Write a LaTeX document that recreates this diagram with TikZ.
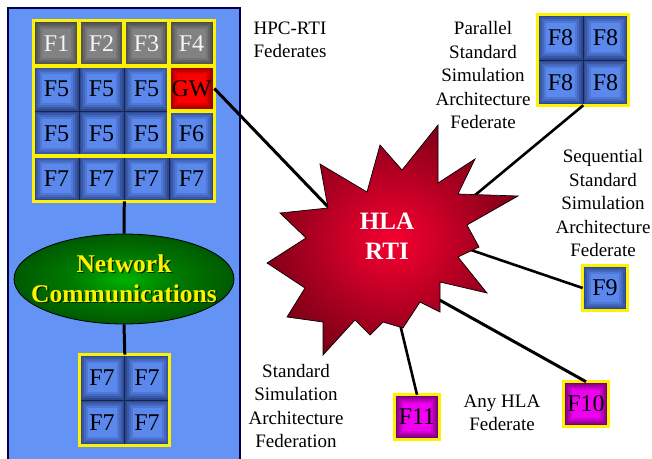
\documentclass[tikz,border=0pt]{standalone}
\usepackage{fontspec}
\setmainfont{Liberation Serif}
\usetikzlibrary{shapes.geometric}
\definecolor{panelblue}{HTML}{6394F5}
\definecolor{bdark}{HTML}{2C4890}
\definecolor{blight}{HTML}{5A88EC}
\definecolor{gdark}{HTML}{484848}
\definecolor{glight}{HTML}{828282}
\definecolor{rdark}{HTML}{8A0000}
\definecolor{rlight}{HTML}{FF0000}
\definecolor{mdark}{HTML}{760076}
\definecolor{mlight}{HTML}{F000F0}
\definecolor{cellline}{HTML}{18254A}
\definecolor{st0}{HTML}{F5002E}
\definecolor{st1}{HTML}{D8002A}
\definecolor{st2}{HTML}{A80020}
\definecolor{st3}{HTML}{7A0016}
\definecolor{st4}{HTML}{600012}
\pgfdeclareradialshading{starshade}{\pgfpoint{0bp}{0bp}}{%
  color(0bp)=(st0);
  color(7bp)=(st1);
  color(17bp)=(st2);
  color(27bp)=(st3);
  color(36bp)=(st4);
  color(50bp)=(st4)}
\pgfdeclareradialshading{netshade}{\pgfpoint{0bp}{0bp}}{%
  color(0bp)=(green!70!black);
  color(12bp)=(green!48!black);
  color(30bp)=(green!30!black);
  color(50bp)=(green!22!black)}
\tikzset{
  bevel/.style 2 args={fill=#1, draw=cellline, line width=0.6pt,
    path picture={\foreach \i/\p in {2/25,4/50,6/75,8/100}{
      \fill[#2!\p!#1] ([xshift=\i pt,yshift=-\i pt]path picture bounding box.north west)
        rectangle ([xshift=-\i pt,yshift=\i pt]path picture bounding box.south east);}}},
  cellbase/.style={rectangle, minimum size=45pt, inner sep=0pt, font=\fontsize{24}{24}\selectfont},
  bcell/.style={cellbase, bevel={bdark}{blight}, text=black},
  gcell/.style={cellbase, bevel={gdark}{glight}, text=white!92!gray},
  rcell/.style={cellbase, bevel={rdark}{rlight}, text=black},
  mcell/.style={cellbase, minimum size=44pt, bevel={mdark}{mlight}, text=black},
  scell/.style={cellbase, minimum size=44pt, bevel={bdark}{blight}, text=black},
  ybox/.style={draw=yellow, line width=2.8pt},
  conn/.style={draw=black, line width=2.6pt},
  lbl/.style={align=center, font=\fontsize{19}{23.5}\selectfont, inner sep=0pt},
  nettext/.style={align=center, font=\bfseries\fontsize{25.5}{30}\selectfont, inner sep=0pt},
}
\begin{document}
\begin{tikzpicture}[x=1pt,y=-1pt]
\useasboundingbox (0,0) rectangle (652,458);
% left panel
\begin{scope}
\clip (0,0) rectangle (652,458);
\draw[fill=panelblue, draw=black!60!blue!70!black, line width=1.2pt] (8,8) rectangle (240,475);
\end{scope}
% top grid
\node[gcell] (f1) at (56.5,43.5) {F1};
\node[gcell] (f2) at (101.5,43.5) {F2};
\node[gcell] (f3) at (146.5,43.5) {F3};
\node[gcell] (f4) at (191.5,43.5) {F4};
\node[bcell] (r1c0) at (56.5,88.5) {F5};
\node[bcell] (r1c1) at (101.5,88.5) {F5};
\node[bcell] (r1c2) at (146.5,88.5) {F5};
\node[rcell] (gw) at (191.5,88.5) {GW};
\node[bcell] (r2c0) at (56.5,133.5) {F5};
\node[bcell] (r2c1) at (101.5,133.5) {F5};
\node[bcell] (r2c2) at (146.5,133.5) {F5};
\node[bcell] (f6) at (191.5,133.5) {F6};
\node[bcell] (r3c0) at (56.5,178.5) {F7};
\node[bcell] (r3c1) at (101.5,178.5) {F7};
\node[bcell] (r3c2) at (146.5,178.5) {F7};
\node[bcell] (r3c3) at (191.5,178.5) {F7};
\foreach \n in {f1,f2,f3,f4,gw,f6}{\draw[ybox] (\n.north west) rectangle (\n.south east);}
\draw[ybox] (r1c0.north west) rectangle (r2c2.south east);
\draw[ybox] (r3c0.north west) rectangle (r3c3.south east);
% network ellipse
\node[ellipse, draw=black, line width=0.8pt, minimum width=220pt, minimum height=90pt,
      shading=netshade] (net) at (124,279) {};
\node[nettext, text=black!85!green] (netsh) at (125.3,280.3) {Network\\Communications};
\node[nettext, text=yellow] (nettxt) at (124,279) {Network\\Communications};
% bottom F7 grid
\node[bcell] (b1) at (102,377.5) {F7};
\node[bcell] (b2) at (147,377.5) {F7};
\node[bcell] (b3) at (102,422.5) {F7};
\node[bcell] (b4) at (147,422.5) {F7};
\draw[ybox] (b1.north west) rectangle (b4.south east);
\draw[conn, line width=3pt] (r3c1.south east) -- (net.north);
\draw[conn, line width=3pt] (net.south) -- (b1.north east);
% F8 grid
\node[bcell] (p1) at (560.5,37.5) {F8};
\node[bcell] (p2) at (605.5,37.5) {F8};
\node[bcell] (p3) at (560.5,82.5) {F8};
\node[bcell] (p4) at (605.5,82.5) {F8};
\draw[ybox] (p1.north west) rectangle (p4.south east);
% single federates
\node[scell] (f9) at (605,288) {F9};
\node[mcell] (f10) at (586,404) {F10};
\node[mcell] (f11) at (417,417) {F11};
\foreach \n in {f9,f10,f11}{\draw[ybox] (\n.north west) rectangle (\n.south east);}
% connectors to the RTI
\coordinate (sGW) at (333,212);
\coordinate (sF8) at (474,196);
\coordinate (sF9) at (468,249);
\coordinate (sF10) at (436,298);
\coordinate (sF11) at (399,320);
\draw[conn, line width=3pt] (gw.east) -- (sGW);
\draw[conn] (p3.south east) -- (sF8);
\draw[conn] (f9.west) -- (sF9);
\draw[conn, line width=3pt] (f10.north) -- (sF10);
\draw[conn] (f11.north) -- (sF11);
% star
\draw[shading=starshade, draw=black, line width=0.7pt]
 (438,125) -- (438,183) -- (475,159) -- (458,194) -- (518,196) -- (467,225) -- (479,247)
 -- (458,257) -- (487,293) -- (440,282) -- (440,312) -- (420,302) -- (403,328) -- (383,322)
 -- (370,335) -- (355,320) -- (323,355) -- (323,322) -- (287,317) -- (305,288) -- (267,263)
 -- (306,238) -- (280,213) -- (328,208) -- (320,164) -- (367,192) -- (380,145) -- (402,170) -- cycle;
\node[align=center, font=\bfseries\fontsize{25}{30}\selectfont, text=white] (rti) at (387,236) {HLA\\RTI};
% labels
\node[lbl] (lhpc) at (290,40) {HPC-RTI\\Federates};
\node[lbl] (lpar) at (483,75) {Parallel\\Standard\\Simulation\\Architecture\\Federate};
\node[lbl] (lseq) at (603,203) {Sequential\\Standard\\Simulation\\Architecture\\Federate};
\node[lbl] (lssa) at (296,406) {Standard\\Simulation\\Architecture\\Federation};
\node[lbl] (lany) at (502,413) {Any HLA\\Federate};
\end{tikzpicture}
\end{document}
